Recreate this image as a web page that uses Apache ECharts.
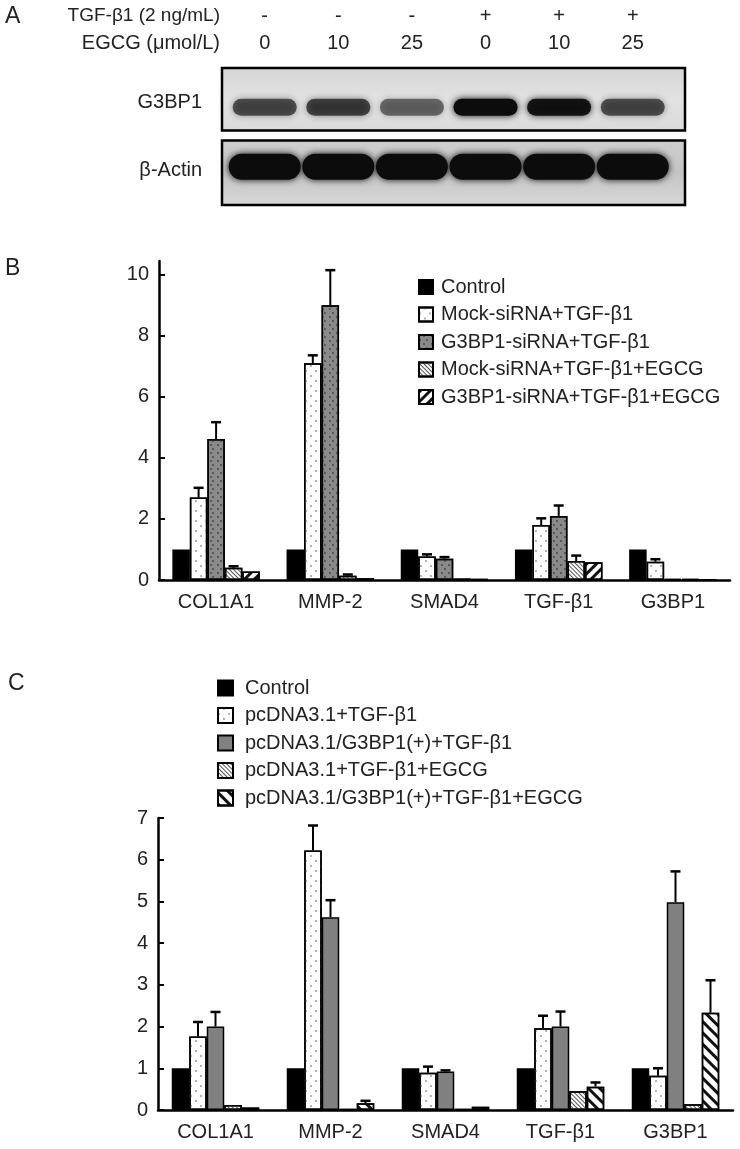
<!DOCTYPE html>
<html>
<head>
<meta charset="utf-8">
<script src="https://cdn.jsdelivr.net/npm/echarts@6/dist/echarts.min.js"></script>
<style>
  html, body { margin: 0; padding: 0; background: #fff; }
  #chart { width: 740px; height: 1149px; }
</style>
</head>
<body>
<div id="chart"></div>
<script>
var FONT = '"Liberation Sans", Arial, sans-serif';

// ---- panel A: western blot ----
var laneTGF = ['-', '-', '-', '+', '+', '+'];
var laneEGCG = ['0', '10', '25', '0', '10', '25'];
var blotRows = ['G3BP1', 'β-Actin'];
var g3bp1Band = [0.55, 0.62, 0.42, 1.0, 0.9, 0.55];   // band darkness
var actinBand = [1, 1, 1, 1, 1, 1];

// ---- panel B / C: qPCR bars ----
var categories = ['COL1A1', 'MMP-2', 'SMAD4', 'TGF-β1', 'G3BP1'];

var namesB = ['Control', 'Mock-siRNA+TGF-β1', 'G3BP1-siRNA+TGF-β1', 'Mock-siRNA+TGF-β1+EGCG', 'G3BP1-siRNA+TGF-β1+EGCG'];
var bControl = [1, 1, 1, 1, 1];
var bMock = [2.7, 7.1, 0.77, 1.8, 0.6];
var bSi = [4.62, 9.0, 0.7, 2.1, 0.04];
var bMockEgcg = [0.4, 0.14, 0.05, 0.62, 0.03];
var bSiEgcg = [0.28, 0.06, 0.03, 0.58, 0.02];
var bControlSd = [0, 0, 0, 0, 0];
var bMockSd = [0.32, 0.26, 0.07, 0.22, 0.08];
var bSiSd = [0.55, 1.15, 0.05, 0.34, 0];
var bMockEgcgSd = [0.05, 0.04, 0, 0.18, 0];
var bSiEgcgSd = [0, 0, 0, 0, 0];
var bTicks = [0, 2, 4, 6, 8, 10];

var namesC = ['Control', 'pcDNA3.1+TGF-β1', 'pcDNA3.1/G3BP1(+)+TGF-β1', 'pcDNA3.1+TGF-β1+EGCG', 'pcDNA3.1/G3BP1(+)+TGF-β1+EGCG'];
var cControl = [1, 1, 1, 1, 1];
var cPc = [1.76, 6.22, 0.89, 1.96, 0.82];
var cG3 = [2.0, 4.62, 0.92, 2.0, 4.98];
var cPcEgcg = [0.12, 0.02, 0.02, 0.45, 0.14];
var cG3Egcg = [0.06, 0.16, 0.08, 0.56, 2.33];
var cControlSd = [0, 0, 0, 0, 0];
var cPcSd = [0.35, 0.6, 0.15, 0.3, 0.18];
var cG3Sd = [0.35, 0.41, 0.03, 0.36, 0.74];
var cPcEgcgSd = [0, 0, 0, 0, 0];
var cG3EgcgSd = [0, 0.06, 0, 0.1, 0.78];
var cTicks = [0, 1, 2, 3, 4, 5, 6, 7];

var BAR_W = 17.5;

var dom = document.getElementById('chart');
var myChart = echarts.init(dom, null, { renderer: 'canvas' });

// bar fills / patterns
var stylesB = [
    { color: '#000' },
    { color: '#fff', decal: { symbol: 'circle', color: '#9a9a9a', dashArrayX: [[2, 8], [0, 5, 2, 3]], dashArrayY: [2, 3] } },
    { color: '#8a8a8a', decal: { symbol: 'circle', color: '#4a4a4a', dashArrayX: [[2, 5], [0, 3.5, 2, 1.5]], dashArrayY: [2, 2] } },
    { color: '#fff', decal: { symbol: 'rect', color: '#555', dashArrayX: [1, 0], dashArrayY: [1, 2], rotation: Math.PI / 4 } },
    { color: '#fff', decal: { symbol: 'rect', color: '#111', dashArrayX: [1, 0], dashArrayY: [3, 4], rotation: -Math.PI / 4 } }
];
var stylesC = [
    { color: '#000' },
    { color: '#fff', decal: { symbol: 'circle', color: '#9a9a9a', dashArrayX: [[2, 8], [0, 5, 2, 3]], dashArrayY: [2, 3] } },
    { color: '#808080' },
    { color: '#fff', decal: { symbol: 'rect', color: '#555', dashArrayX: [1, 0], dashArrayY: [1, 2], rotation: Math.PI / 4 } },
    { color: '#fff', decal: { symbol: 'rect', color: '#111', dashArrayX: [1, 0], dashArrayY: [3, 5], rotation: Math.PI / 4 } }
];

function barSeries(names, values, styles, axisIdx) {
    return values.map(function (vals, i) {
        var st = styles[i];
        return {
            name: names[i],
            type: 'bar',
            xAxisIndex: axisIdx,
            yAxisIndex: axisIdx,
            barWidth: BAR_W,
            barGap: '0%',
            data: vals,
            itemStyle: {
                color: st.color,
                borderColor: '#000',
                borderWidth: 1.5,
                decal: st.decal || null
            },
            z: 2
        };
    });
}

function errData(values, sds) {
    var out = [];
    for (var s = 0; s < values.length; s++) {
        for (var c = 0; c < values[s].length; c++) {
            if (sds[s][c] > 0) {
                out.push([c, s, values[s][c], values[s][c] + sds[s][c]]);
            }
        }
    }
    return out;
}

function renderErr(params, api) {
    var c = api.value(0), s = api.value(1);
    var p0 = api.coord([c, api.value(2)]);
    var p1 = api.coord([c, api.value(3)]);
    var x = p0[0] + (s - 2) * BAR_W;
    return {
        type: 'group',
        children: [
            { type: 'line', shape: { x1: x, y1: p0[1], x2: x, y2: p1[1] }, style: { stroke: '#000', lineWidth: 2 } },
            { type: 'line', shape: { x1: x - 5, y1: p1[1], x2: x + 5, y2: p1[1] }, style: { stroke: '#000', lineWidth: 2.5 } }
        ]
    };
}

function catAxis(idx) {
    return {
        type: 'category',
        gridIndex: idx,
        data: categories,
        axisLine: { lineStyle: { color: '#000', width: 2.5 } },
        axisTick: { inside: true, length: 7, lineStyle: { color: '#000', width: 2 } },
        axisLabel: { color: '#222', fontSize: 20, fontFamily: FONT, margin: 12 }
    };
}

function valAxis(idx, max, ticks) {
    return {
        type: 'value',
        gridIndex: idx,
        min: 0,
        max: max,
        splitLine: { show: false },
        axisLine: { show: true, lineStyle: { color: '#000', width: 2.5 } },
        axisTick: { show: true, inside: true, length: 6, customValues: ticks, lineStyle: { color: '#000', width: 2 } },
        axisLabel: { color: '#222', fontSize: 20, fontFamily: FONT, margin: 10, customValues: ticks }
    };
}

var blotData = [];
for (var i = 0; i < laneTGF.length; i++) {
    blotData.push([i + 1, 0, g3bp1Band[i]]);
    blotData.push([i + 1, 1, actinBand[i]]);
}

var seriesB = barSeries(namesB, [bControl, bMock, bSi, bMockEgcg, bSiEgcg], stylesB, 1);
var seriesC = barSeries(namesC, [cControl, cPc, cG3, cPcEgcg, cG3Egcg], stylesC, 2);

var option = {
    animation: false,
    backgroundColor: '#fff',
    textStyle: { fontFamily: FONT },
    grid: [
        { left: 222, top: 68, width: 463, height: 137 },
        { left: 159, top: 261, width: 571, height: 319 },
        { left: 158, top: 818, width: 575, height: 292 }
    ],
    xAxis: [
        { type: 'value', gridIndex: 0, min: 0.42, max: 6.71, show: false },
        catAxis(1),
        catAxis(2)
    ],
    yAxis: [
        {
            type: 'category', gridIndex: 0, data: blotRows, inverse: true,
            axisLine: { show: false }, axisTick: { show: false },
            axisLabel: { color: '#222', fontSize: 20, fontFamily: FONT, margin: 20 }
        },
        valAxis(1, 10.45, bTicks),
        valAxis(2, 7, cTicks)
    ],
    legend: [
        {
            data: namesB, orient: 'vertical', left: 413, top: 272,
            icon: 'rect', itemWidth: 14, itemHeight: 14, itemGap: 7.5, selectedMode: false,
            itemStyle: { borderColor: '#000', borderWidth: 2 },
            textStyle: { color: '#222', fontSize: 20, lineHeight: 20, fontFamily: FONT, padding: [0, 0, 0, 3] }
        },
        {
            data: namesC, orient: 'vertical', left: 212, top: 673,
            icon: 'rect', itemWidth: 15, itemHeight: 15, itemGap: 7.5, selectedMode: false,
            itemStyle: { borderColor: '#000', borderWidth: 2 },
            textStyle: { color: '#222', fontSize: 20, lineHeight: 20, fontFamily: FONT, padding: [0, 0, 0, 7] }
        }
    ],
    graphic: [
        { type: 'text', left: 5, top: 5, style: { text: 'A', fontSize: 23, fontFamily: FONT, fill: '#222' } },
        { type: 'text', left: 5, top: 257, style: { text: 'B', fontSize: 23, fontFamily: FONT, fill: '#222' } },
        { type: 'text', left: 8, top: 672, style: { text: 'C', fontSize: 23, fontFamily: FONT, fill: '#222' } },
        { type: 'text', x: 220, y: 16, style: { text: 'TGF-β1 (2 ng/mL)', fontSize: 19, fontFamily: FONT, fill: '#222', align: 'right', verticalAlign: 'middle' } },
        { type: 'text', x: 220, y: 43, style: { text: 'EGCG (μmol/L)', fontSize: 20, fontFamily: FONT, fill: '#222', align: 'right', verticalAlign: 'middle' } }
    ],
    series: [
        // blot frames
        {
            type: 'custom', xAxisIndex: 0, yAxisIndex: 0, z: 1, silent: true,
            data: blotRows.map(function (r, i) { return [0, i]; }),
            renderItem: function (params, api) {
                var row = api.value(1);
                var cs = params.coordSys;
                var band = api.size([0, 1])[1];
                var cy = api.coord([1, row])[1];
                var top = row === 0 ? cs.y : cy - band / 2 + 4;
                var bottom = row === 0 ? cy + band / 2 - 6 : cs.y + cs.height;
                var fill = row === 0
                    ? new echarts.graphic.LinearGradient(0, 0, 0, 1, [{ offset: 0, color: '#d6d6d6' }, { offset: 0.5, color: '#e2e2e2' }, { offset: 1, color: '#dadada' }])
                    : new echarts.graphic.LinearGradient(0, 0, 0, 1, [{ offset: 0, color: '#cfcfcf' }, { offset: 0.5, color: '#c4c4c4' }, { offset: 1, color: '#d8d8d8' }]);
                return {
                    type: 'rect',
                    shape: { x: cs.x, y: top, width: cs.width, height: bottom - top },
                    style: { fill: fill, stroke: '#000', lineWidth: 2.5 }
                };
            }
        },
        // blot bands
        {
            type: 'custom', xAxisIndex: 0, yAxisIndex: 0, z: 2, silent: true,
            data: blotData,
            renderItem: function (params, api) {
                var row = api.value(1);
                var a = api.value(2);
                var c = api.coord([api.value(0), row]);
                var w = row === 0 ? 64 : 72;
                var h = row === 0 ? 17 : 26;
                var dy = row === 0 ? 5 : -4;
                var col = 'rgba(12,12,12,' + (0.15 + 0.85 * a).toFixed(2) + ')';
                return {
                    type: 'rect',
                    shape: { x: c[0] - w / 2, y: c[1] + dy - h / 2, width: w, height: h, r: h / 2 },
                    style: { fill: col, shadowBlur: 7, shadowColor: col }
                };
            }
        },
        // lane labels
        {
            type: 'custom', xAxisIndex: 0, yAxisIndex: 0, z: 3, silent: true,
            data: laneTGF.map(function (t, i) { return [i + 1, 0]; }),
            renderItem: function (params, api) {
                var i = params.dataIndex;
                var x = api.coord([api.value(0), 0])[0];
                return {
                    type: 'group',
                    children: [
                        { type: 'text', x: x, y: 16, style: { text: laneTGF[i], fontSize: 20, fontFamily: FONT, fill: '#222', align: 'center', verticalAlign: 'middle' } },
                        { type: 'text', x: x, y: 43, style: { text: laneEGCG[i], fontSize: 20, fontFamily: FONT, fill: '#222', align: 'center', verticalAlign: 'middle' } }
                    ]
                };
            }
        }
    ].concat(seriesB, seriesC, [
        {
            type: 'custom', xAxisIndex: 1, yAxisIndex: 1, z: 5, silent: true,
            data: errData([bControl, bMock, bSi, bMockEgcg, bSiEgcg], [bControlSd, bMockSd, bSiSd, bMockEgcgSd, bSiEgcgSd]),
            renderItem: renderErr
        },
        {
            type: 'custom', xAxisIndex: 2, yAxisIndex: 2, z: 5, silent: true,
            data: errData([cControl, cPc, cG3, cPcEgcg, cG3Egcg], [cControlSd, cPcSd, cG3Sd, cPcEgcgSd, cG3EgcgSd]),
            renderItem: renderErr
        }
    ])
};

myChart.setOption(option);
window.onresize = myChart.resize;
</script>
</body>
</html>
